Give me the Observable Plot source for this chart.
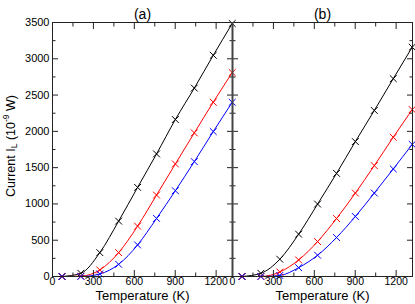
<!DOCTYPE html>
<html><head><meta charset="utf-8">
<script src="https://cdn.jsdelivr.net/npm/d3@7"></script>
<script src="https://cdn.jsdelivr.net/npm/@observablehq/plot@0.6"></script>
<style>
html,body{margin:0;padding:0;background:#fff;}
#chart svg{overflow:visible;}
</style></head><body><div id="chart"></div>
<script>
const panels = ["(a)", "(b)"];
const seriesNames = ["black", "red", "blue"];
const seriesColors = ["#000000", "#ff1a1a", "#3f62ff"];
const temps = [70, 208, 347, 485, 624, 763, 901, 1040, 1179, 1318];
const aBlack = [0, 44, 329, 763, 1228, 1689, 2163, 2596, 3048, 3486];
const aRed   = [0, 5, 90, 329, 694, 1122, 1551, 1979, 2402, 2810];
const aBlue  = [0, 0, 35, 168, 435, 800, 1182, 1583, 1997, 2400];
const bBlack = [0, 44, 238, 583, 998, 1421, 1859, 2288, 2726, 3160];
const bRed   = [0, 0, 62, 228, 481, 799, 1150, 1528, 1919, 2300];
const bBlue  = [0, 0, 14, 122, 293, 537, 827, 1150, 1482, 1820];
const xTicks = [0, 300, 600, 900, 1200];
const xMinor = [150, 450, 750, 1050];
const yTicks = [0, 500, 1000, 1500, 2000, 2500, 3000, 3500];
const yMinor = [250, 750, 1250, 1750, 2250, 2750, 3250];
const xLabel = "Temperature (K)";

const table = [
  ["(a)", "black", aBlack], ["(a)", "red", aRed], ["(a)", "blue", aBlue],
  ["(b)", "black", bBlack], ["(b)", "red", bRed], ["(b)", "blue", bBlue]
];
const rows = [];
for (const [panel, series, vals] of table) {
  vals.forEach((v, i) => rows.push({panel, series, T: temps[i], I: v}));
}

const axisColor = "#222";
const noText = () => "";
const chart = Plot.plot({
  width: 415,
  height: 304,
  marginLeft: 52,
  marginRight: 3,
  marginTop: 22,
  marginBottom: 28,
  style: {fontFamily: "'Liberation Sans', Arial, sans-serif", fontSize: "11px", color: "#000", background: "#fff"},
  fx: {domain: panels, padding: 0, axis: null},
  x: {domain: [0, 1320]},
  y: {domain: [0, 3500]},
  color: {domain: seriesNames, range: seriesColors},
  marks: [
    Plot.line(rows, {fx: "panel", x: "T", y: "I", z: "series", stroke: "series", curve: "monotone-x", strokeWidth: 1, clip: true}),
    Plot.dot(rows, {fx: "panel", x: "T", y: "I", stroke: "series", symbol: "times", r: 3.2, strokeWidth: 1}),
    Plot.axisY({ticks: yTicks, anchor: "left", tickSize: -6, tickFormat: noText, label: null, facetAnchor: null, stroke: axisColor}),
    Plot.axisY({ticks: yTicks, anchor: "right", tickSize: -6, tickFormat: noText, label: null, facetAnchor: null, stroke: axisColor}),
    Plot.axisY({ticks: yMinor, anchor: "left", tickSize: -3.5, tickFormat: noText, label: null, facetAnchor: null, stroke: axisColor}),
    Plot.axisY({ticks: yMinor, anchor: "right", tickSize: -3.5, tickFormat: noText, label: null, facetAnchor: null, stroke: axisColor}),
    Plot.axisY({ticks: yTicks, anchor: "left", tickSize: 0, tickPadding: 3, tickFormat: d => String(d), label: null}),
    Plot.axisX({ticks: xTicks, anchor: "bottom", tickSize: -6, tickFormat: noText, label: null, stroke: axisColor}),
    Plot.axisX({ticks: xTicks, anchor: "top", tickSize: -6, tickFormat: noText, label: null, stroke: axisColor}),
    Plot.axisX({ticks: xMinor, anchor: "bottom", tickSize: -3.5, tickFormat: noText, label: null, stroke: axisColor}),
    Plot.axisX({ticks: xMinor, anchor: "top", tickSize: -3.5, tickFormat: noText, label: null, stroke: axisColor}),
    Plot.axisX({ticks: xTicks, anchor: "bottom", tickSize: 0, tickPadding: 1, fontSize: 10.5, tickFormat: d => String(d), label: null}),
    Plot.frame({stroke: axisColor, strokeWidth: 1}),
    Plot.ruleX(["(b)"], {fx: d => d, x: () => 0, stroke: "#444", strokeWidth: 2}),
    Plot.text(panels, {fx: d => d, text: d => d, frameAnchor: "top", dy: -13, fontSize: 14}),
    Plot.text(panels, {fx: d => d, text: () => xLabel, frameAnchor: "bottom", dy: 23.5, fontSize: 13})
  ]
});
document.getElementById("chart").appendChild(chart);

const svg = d3.select(chart);
svg.selectAll("text").filter(function () { return this.textContent === ""; }).remove();

// y-axis title with subscript / superscript
const t = svg.append("text")
  .attr("transform", "translate(12,146) rotate(-90)")
  .attr("text-anchor", "middle")
  .attr("dominant-baseline", "middle")
  .attr("font-size", 12.5)
  .attr("fill", "#000");
t.append("tspan").text("Current I");
t.append("tspan").attr("font-size", 8.5).attr("dy", 3).text("L");
t.append("tspan").attr("dy", -3).text(" (10");
t.append("tspan").attr("font-size", 8.5).attr("dy", -5).text("-9");
t.append("tspan").attr("dy", 5).text(" W)");
</script></body></html>
